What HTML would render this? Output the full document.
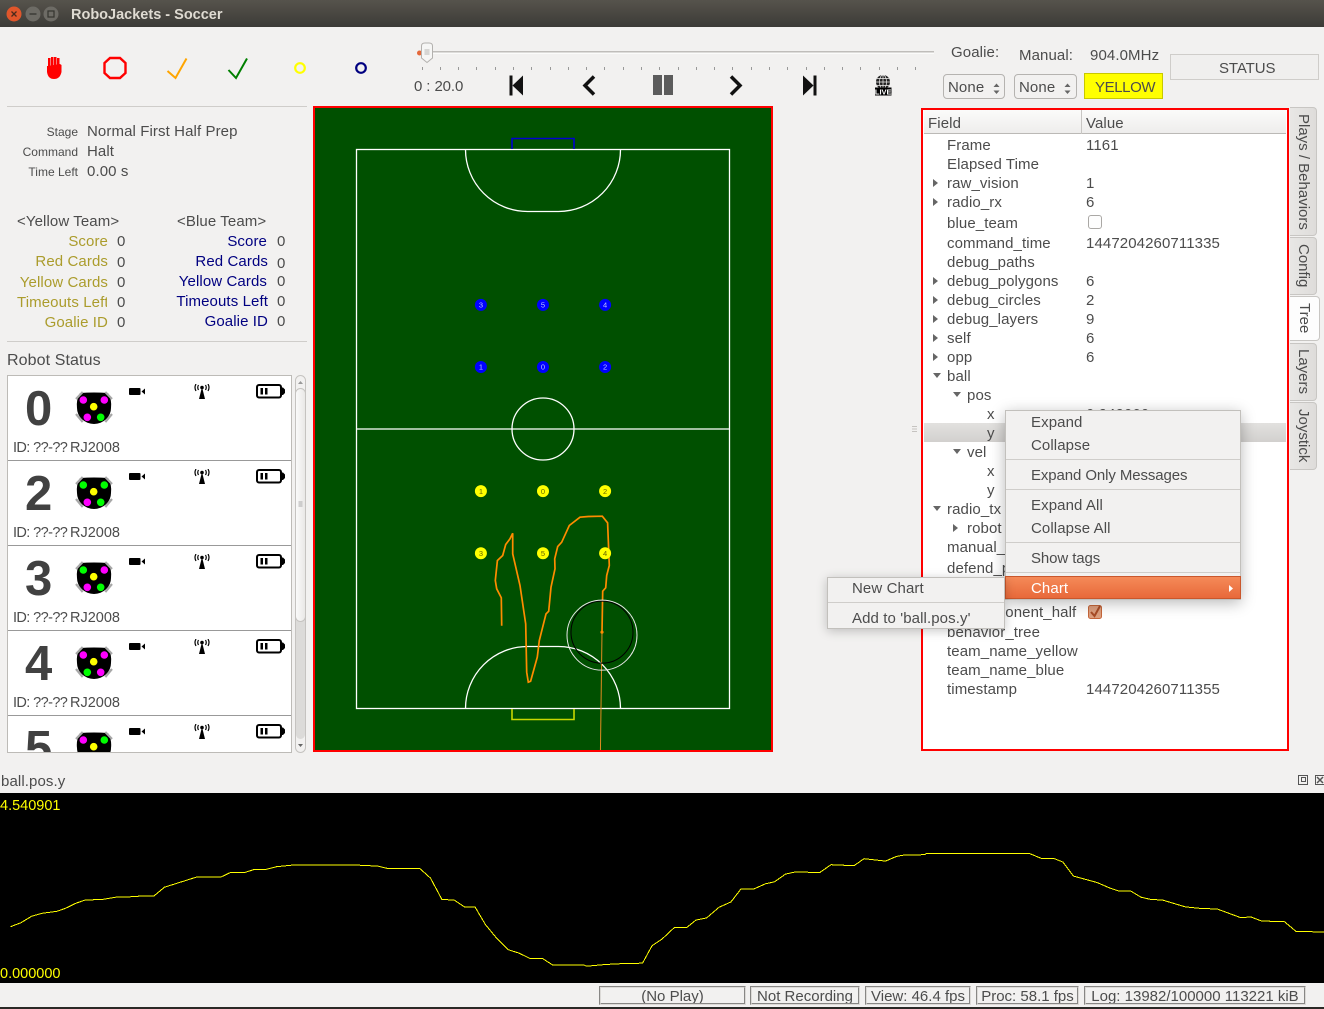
<!DOCTYPE html>
<html lang="en">
<head>
<meta charset="utf-8">
<title>RoboJackets - Soccer</title>
<style>
html,body{margin:0;padding:0}
body{width:1324px;height:1009px;position:relative;overflow:hidden;background:#f2f1f0;font-family:"Liberation Sans",sans-serif;color:#4c4c4c}
.t{position:absolute;white-space:nowrap;line-height:18px;height:18px;margin-top:2px;font-size:15px;letter-spacing:.1px;color:#4c4c4c}
.r{text-align:right}
.s{font-size:12px;letter-spacing:0}
.g{color:#ab9c2c}
.n{color:#000080}
.box{position:absolute;box-sizing:border-box}
.sep{position:absolute;height:1px;background:#cfcdca}
.tr{position:absolute;width:0;height:0;margin-top:1px;border-top:4px solid transparent;border-bottom:4px solid transparent;border-left:5px solid #666}
.td{position:absolute;width:0;height:0;border-left:4px solid transparent;border-right:4px solid transparent;border-top:5px solid #666}
.tab{position:absolute;box-sizing:border-box;left:1290px;width:27px;background:linear-gradient(90deg,#e8e7e5,#dedcda);border:1px solid #c8c6c3;border-left:none;border-radius:0 4px 4px 0}
.tab span{position:absolute;left:3px;top:0;bottom:0;width:20px;text-align:center;writing-mode:vertical-rl;font-size:15px;line-height:20px;color:#4c4c4c;white-space:nowrap}
.spin{position:absolute;box-sizing:border-box;top:74px;height:25px;border:1px solid #b5b3b0;border-radius:4px;background:#f2f1f0}
.card{position:absolute;left:0;width:283px;height:85px;border-bottom:1px solid #999;box-sizing:border-box;overflow:hidden}
.id{letter-spacing:0;font-size:14.5px}
.id span{display:inline-block;width:57px;letter-spacing:-.6px}
.status{position:absolute;box-sizing:border-box;top:986px;height:19px;border:2px groove #dcdad7;font-size:15px;line-height:18px;text-align:center;color:#4c4c4c;white-space:nowrap;overflow:hidden}
</style>
</head>
<body>

<svg width="0" height="0" style="position:absolute">
  <defs>
    <symbol id="camera" viewBox="0 0 16 8"><rect x="0" y="0" width="11.5" height="7" rx="1" fill="#000"/><path d="M12.5 3.5L16 0.5V6.500z" fill="#000"/></symbol>
    <symbol id="antenna" viewBox="0 0 16 15">
      <path d="M8 3L11 15H5z" fill="#000"/><circle cx="8" cy="3.500" r="1.800" fill="#000"/>
      <path d="M4.500 1Q3 3.500 4.500 6M11.500 1Q13 3.500 11.500 6M2 0Q0 3.500 2 7M14 0Q16 3.500 14 7" fill="none" stroke="#000" stroke-width="1.200"/>
    </symbol>
    <symbol id="battery" viewBox="0 0 29 15">
      <rect x="1" y="1" width="24" height="12.500" rx="2" fill="#fff" stroke="#000" stroke-width="2"/>
      <path d="M25 3.500h2l2 2v3.500l-2 2h-2z" fill="#000"/>
      <rect x="4.500" y="4" width="2.500" height="6.500" fill="#000"/><rect x="9" y="4" width="2.500" height="6.500" fill="#000"/>
    </symbol>
    <symbol id="robot-body" viewBox="0 0 40 36">
      <path d="M6 3Q20 2 34 3Q38 10 37 18A17 16 0 0 1 3 18Q2 10 6 3z" fill="#000"/>
      <path d="M8.700 2L2 9M31.300 2L38 9M2 24L8.700 32M38 24L31.300 32" stroke="#a8a8a8" stroke-width="2.200" fill="none"/>
    </symbol>
  </defs>
</svg>

<!-- Title bar -->
<div class="box" style="left:0;top:0;width:1324px;height:27px;background:linear-gradient(#56534c,#3c3b37)"></div>
<svg class="box" style="left:0;top:0" width="70" height="27">
  <circle cx="14" cy="14" r="7.500" fill="#e0562b"/>
  <path d="M11.500 11.500L16.500 16.500M16.500 11.500L11.500 16.500" stroke="#4a2a1c" stroke-width="1.300"/>
  <circle cx="33" cy="14" r="7.500" fill="#6d6b65"/>
  <path d="M29.500 14H36.500" stroke="#35342f" stroke-width="1.300"/>
  <circle cx="51" cy="14" r="7.500" fill="#6d6b65"/>
  <rect x="48" y="11" width="6" height="6" fill="none" stroke="#35342f" stroke-width="1.200"/>
</svg>
<div class="t" style="left:71px;top:4px;font-weight:bold;font-size:14.5px;letter-spacing:0;color:#dfdbd2">RoboJackets - Soccer</div>

<!-- Toolbar -->
<svg class="box" style="left:0;top:27px" width="400" height="78">
  <g transform="translate(0,-27)">
    <g fill="#f00">
      <rect x="48" y="58" width="2.500" height="12"/><rect x="51" y="57" width="2.500" height="12"/><rect x="54" y="57" width="2.500" height="12"/><rect x="57" y="58" width="2.500" height="12"/>
      <path d="M60 64L61.500 65V72Q60 79 54 79Q48 79 47 72V66L48 66z"/>
    </g>
    <polygon points="110,58 120,58 125.500,63 125.500,73 120,78 110,78 104.500,73 104.500,63" fill="none" stroke="#f00" stroke-width="2.400"/>
    <polyline points="167.500,71 175.500,78 186.500,58.500" fill="none" stroke="#ffa500" stroke-width="2"/>
    <polyline points="228.500,70 236,78 247,58.500" fill="none" stroke="#008000" stroke-width="2"/>
    <circle cx="300" cy="68" r="4.800" fill="none" stroke="#ff0" stroke-width="2.200"/>
    <circle cx="361" cy="68" r="4.800" fill="none" stroke="#000080" stroke-width="2.200"/>
  </g>
</svg>

<!-- Slider -->
<svg class="box" style="left:410px;top:38px" width="530" height="30" id="slider-svg">
  <rect x="10" y="13" width="514" height="1.500" fill="#bfbdba"/>
  <rect x="10" y="14.500" width="514" height="1.500" fill="#fbfbfa"/>
  <circle cx="9.500" cy="15" r="2.500" fill="#e5683a"/>
  <path d="M11.500 8Q11.500 5 15 5H19Q22.500 5 22.500 8V20L17 24.500L11.500 20z" fill="#f6f6f5" stroke="#b3b1ae"/>
  <path d="M14.500 12H19.500M14.500 14H19.500M14.500 16H19.500" stroke="#b8b6b3"/>
</svg>
<svg class="box" style="left:410px;top:67px" width="530" height="4" id="slider-ticks"></svg>
<div class="t" style="left:414px;top:76px;letter-spacing:-.1px">0 : 20.0</div>

<svg class="box" style="left:500px;top:70px" width="400" height="28">
  <g transform="translate(-500,-70)">
    <g><rect x="509.500" y="75.500" width="3" height="20" fill="#111"/><path d="M523 75.500V95.500L512.500 85.500z" fill="#111"/></g>
    <polyline points="594,76.500 585,85.500 594,94.500" fill="none" stroke="#111" stroke-width="3.500"/>
    <g fill="#5c5c5c"><rect x="653" y="75" width="9" height="20"/><rect x="664" y="75" width="9" height="20"/></g>
    <polyline points="731,76.500 740,85.500 731,94.500" fill="none" stroke="#111" stroke-width="3.500"/>
    <g><path d="M803 75.500V95.500L813.500 85.500z" fill="#111"/><rect x="813.500" y="75.500" width="3" height="20" fill="#111"/></g>
    <g>
      <circle cx="883" cy="82" r="7" fill="#222"/>
      <path d="M876 82H890M877 78.500H889M877 85.500H889M883 75V89" stroke="#f2f1f0" stroke-width=".7"/>
      <ellipse cx="883" cy="82" rx="3.500" ry="7" fill="none" stroke="#f2f1f0" stroke-width=".7"/>
      <rect x="875" y="87.500" width="16.500" height="8" fill="#000"/>
      <text x="883.200" y="94.500" font-size="7.500" font-weight="bold" fill="#fff" text-anchor="middle" font-family="Liberation Sans, sans-serif">LIVE</text>
    </g>
  </g>
</svg>

<!-- Top right controls -->
<div class="t" style="left:951px;top:42px">Goalie:</div>
<div class="t" style="left:1019px;top:45px">Manual:</div>
<div class="t" style="left:1090px;top:45px">904.0MHz</div>
<div class="box" style="left:1170px;top:54px;width:149px;height:26px;border:1px solid #cfcdca;background:#f0efee"></div>
<div class="t" style="left:1219px;top:58px;letter-spacing:-.1px">STATUS</div>

<div class="spin" style="left:943px;width:62px"></div>
<div class="t" style="left:948px;top:77px">None</div>
<div class="spin" style="left:1014px;width:63px"></div>
<div class="t" style="left:1019px;top:77px">None</div>
<svg class="box" style="left:990px;top:81px" width="85" height="15">
  <path d="M3.500 6L6.500 2.500L9.500 6zM3.500 9.500L6.500 13L9.500 9.500zM74.500 6L77.500 2.500L80.500 6zM74.500 9.500L77.500 13L80.500 9.500z" fill="#666"/>
</svg>
<div class="box" style="left:1084px;top:73px;width:79px;height:26px;background:#ff0;border:1px solid #c8c800"></div>
<div class="t" style="left:1095px;top:77px;letter-spacing:-.4px">YELLOW</div>

<!-- Left panel -->
<div class="sep" style="left:7px;top:106px;width:300px"></div>
<div class="t r s" style="left:0;width:78px;top:121px">Stage</div>
<div class="t" style="left:87px;top:121px">Normal First Half Prep</div>
<div class="t r s" style="left:0;width:78px;top:141px">Command</div>
<div class="t" style="left:87px;top:141px">Halt</div>
<div class="t r s" style="left:0;width:78px;top:161px">Time Left</div>
<div class="t" style="left:87px;top:161px">0.00 s</div>

<div class="t" style="left:17px;top:211px">&lt;Yellow Team&gt;</div>
<div class="t r g" style="left:0;width:108px;top:231px">Score</div>
<div class="t" style="left:117px;top:231px">0</div>
<div class="t r g" style="left:0;width:108px;top:251px">Red Cards</div>
<div class="t" style="left:117px;top:252px">0</div>
<div class="t r g" style="left:0;width:108px;top:272px">Yellow Cards</div>
<div class="t" style="left:117px;top:272px">0</div>
<div class="t g" style="left:17px;width:90px;overflow:hidden;top:292px">Timeouts Left</div>
<div class="t" style="left:117px;top:292px">0</div>
<div class="t r g" style="left:0;width:108px;top:312px">Goalie ID</div>
<div class="t" style="left:117px;top:312px">0</div>

<div class="t" style="left:177px;top:211px">&lt;Blue Team&gt;</div>
<div class="t r n" style="left:120px;width:147px;top:231px">Score</div>
<div class="t" style="left:277px;top:231px">0</div>
<div class="t r n" style="left:120px;width:148px;top:251px">Red Cards</div>
<div class="t" style="left:277px;top:253px">0</div>
<div class="t r n" style="left:120px;width:147px;top:271px">Yellow Cards</div>
<div class="t" style="left:277px;top:271px">0</div>
<div class="t r n" style="left:120px;width:148px;top:291px">Timeouts Left</div>
<div class="t" style="left:277px;top:291px">0</div>
<div class="t r n" style="left:120px;width:148px;top:311px">Goalie ID</div>
<div class="t" style="left:277px;top:311px">0</div>

<div class="sep" style="left:7px;top:341px;width:300px"></div>
<div class="t" style="left:7px;top:350px;font-size:16px">Robot Status</div>

<!-- Robot list -->
<div class="box" style="left:7px;top:375px;width:285px;height:378px;background:#fff;border:1px solid #bdbbb7;overflow:hidden">
  <div class="card" style="top:0">
    <div class="t" style="left:17px;top:6px;height:50px;line-height:50px;font-size:49px;font-weight:bold;letter-spacing:0;color:#414141">0</div>
    <svg class="box" style="left:66px;top:14px" width="40" height="36"><use href="#robot-body"/><circle cx="9.300" cy="10" r="3.800" fill="#f0f"/><circle cx="30.300" cy="10" r="3.800" fill="#f0f"/><circle cx="19.700" cy="16.700" r="3.800" fill="#ff0"/><circle cx="13.300" cy="27.300" r="3.800" fill="#f0f"/><circle cx="26.700" cy="27.300" r="3.800" fill="#0f0"/></svg>
    <svg class="box" style="left:121px;top:12px" width="16" height="8"><use href="#camera"/></svg>
    <svg class="box" style="left:186px;top:8px" width="16" height="15"><use href="#antenna"/></svg>
    <svg class="box" style="left:248px;top:8px" width="29" height="15"><use href="#battery"/></svg>
    <div class="t id" style="left:5px;top:61px"><span>ID: ??-??</span>RJ2008</div>
  </div>
  <div class="card" style="top:85px">
    <div class="t" style="left:17px;top:6px;height:50px;line-height:50px;font-size:49px;font-weight:bold;letter-spacing:0;color:#414141">2</div>
    <svg class="box" style="left:66px;top:14px" width="40" height="36"><use href="#robot-body"/><circle cx="9.300" cy="10" r="3.800" fill="#0f0"/><circle cx="30.300" cy="10" r="3.800" fill="#0f0"/><circle cx="19.700" cy="16.700" r="3.800" fill="#ff0"/><circle cx="13.300" cy="27.300" r="3.800" fill="#f0f"/><circle cx="26.700" cy="27.300" r="3.800" fill="#0f0"/></svg>
    <svg class="box" style="left:121px;top:12px" width="16" height="8"><use href="#camera"/></svg>
    <svg class="box" style="left:186px;top:8px" width="16" height="15"><use href="#antenna"/></svg>
    <svg class="box" style="left:248px;top:8px" width="29" height="15"><use href="#battery"/></svg>
    <div class="t id" style="left:5px;top:61px"><span>ID: ??-??</span>RJ2008</div>
  </div>
  <div class="card" style="top:170px">
    <div class="t" style="left:17px;top:6px;height:50px;line-height:50px;font-size:49px;font-weight:bold;letter-spacing:0;color:#414141">3</div>
    <svg class="box" style="left:66px;top:14px" width="40" height="36"><use href="#robot-body"/><circle cx="9.300" cy="10" r="3.800" fill="#0f0"/><circle cx="30.300" cy="10" r="3.800" fill="#f0f"/><circle cx="19.700" cy="16.700" r="3.800" fill="#ff0"/><circle cx="13.300" cy="27.300" r="3.800" fill="#f0f"/><circle cx="26.700" cy="27.300" r="3.800" fill="#0f0"/></svg>
    <svg class="box" style="left:121px;top:12px" width="16" height="8"><use href="#camera"/></svg>
    <svg class="box" style="left:186px;top:8px" width="16" height="15"><use href="#antenna"/></svg>
    <svg class="box" style="left:248px;top:8px" width="29" height="15"><use href="#battery"/></svg>
    <div class="t id" style="left:5px;top:61px"><span>ID: ??-??</span>RJ2008</div>
  </div>
  <div class="card" style="top:255px">
    <div class="t" style="left:17px;top:6px;height:50px;line-height:50px;font-size:49px;font-weight:bold;letter-spacing:0;color:#414141">4</div>
    <svg class="box" style="left:66px;top:14px" width="40" height="36"><use href="#robot-body"/><circle cx="9.300" cy="10" r="3.800" fill="#f0f"/><circle cx="30.300" cy="10" r="3.800" fill="#f0f"/><circle cx="19.700" cy="16.700" r="3.800" fill="#ff0"/><circle cx="13.300" cy="27.300" r="3.800" fill="#0f0"/><circle cx="26.700" cy="27.300" r="3.800" fill="#f0f"/></svg>
    <svg class="box" style="left:121px;top:12px" width="16" height="8"><use href="#camera"/></svg>
    <svg class="box" style="left:186px;top:8px" width="16" height="15"><use href="#antenna"/></svg>
    <svg class="box" style="left:248px;top:8px" width="29" height="15"><use href="#battery"/></svg>
    <div class="t id" style="left:5px;top:61px"><span>ID: ??-??</span>RJ2008</div>
  </div>
  <div class="card" style="top:340px;border-bottom:none">
    <div class="t" style="left:17px;top:6px;height:50px;line-height:50px;font-size:49px;font-weight:bold;letter-spacing:0;color:#414141">5</div>
    <svg class="box" style="left:66px;top:14px" width="40" height="36"><use href="#robot-body"/><circle cx="9.300" cy="10" r="3.800" fill="#f0f"/><circle cx="30.300" cy="10" r="3.800" fill="#0f0"/><circle cx="19.700" cy="16.700" r="3.800" fill="#ff0"/></svg>
    <svg class="box" style="left:121px;top:12px" width="16" height="8"><use href="#camera"/></svg>
    <svg class="box" style="left:186px;top:8px" width="16" height="15"><use href="#antenna"/></svg>
    <svg class="box" style="left:248px;top:8px" width="29" height="15"><use href="#battery"/></svg>
  </div>
</div>
<!-- Scrollbar -->
<div class="box" style="left:295px;top:375px;width:11px;height:378px;border:1px solid #c5c3c0;border-radius:6px;background:#f2f1f0"></div>
<div class="box" style="left:296px;top:388px;width:9px;height:351px;background:#dcdbd9;border-radius:5px"></div>
<div class="box" style="left:295px;top:388px;width:11px;height:234px;background:linear-gradient(90deg,#fafafa,#e9e8e6);border:1px solid #c5c3c0;border-radius:6px"></div>
<svg class="box" style="left:295px;top:377px" width="11" height="375"><path d="M3 7L5.500 4L8 7z" fill="#999"/><path d="M3 367L5.500 370L8 367z" fill="#666"/><path d="M3.500 125H7.500M3.500 127H7.500M3.500 129H7.500" stroke="#aaa"/></svg>

<!-- Soccer field -->
<svg class="box" id="field" style="left:313px;top:106px" width="461" height="646" viewBox="313 106 461 646">
  <rect x="314" y="107" width="458" height="644" fill="#005000" stroke="#f00" stroke-width="2"/>
  <clipPath id="fieldclip"><rect x="315" y="108" width="456" height="642"/></clipPath>
  <g fill="none" stroke="#fff" stroke-width="1.300">
    <rect x="356.500" y="149.500" width="373" height="559"/>
    <path d="M356.500 429H729.500"/>
    <circle cx="543" cy="429" r="31"/>
    <path d="M465.500 149.500A62 62 0 0 0 527.500 211.500H558.500A62 62 0 0 0 620.500 149.500"/>
    <path d="M465.500 708.500A62 62 0 0 1 527.500 646.500H558.500A62 62 0 0 1 620.500 708.500"/>
  </g>
  <path d="M512 149V138.500H574V149" fill="none" stroke="#0000d0" stroke-width="1.600"/>
  <path d="M512 709V719.500H574V709" fill="none" stroke="#c8d800" stroke-width="1.600"/>
  <g id="ball-layer" clip-path="url(#fieldclip)"></g>
  <g id="robot-layer"></g>
</svg>

<!-- Tree panel -->
<div class="box" style="left:921px;top:108px;width:368px;height:643px;background:#fff;border:2.500px solid #f00"></div>
<div class="box" style="left:924px;top:110px;width:362px;height:24px;background:linear-gradient(#fbfbfa,#eeedec);border-bottom:1px solid #bbb9b6"></div>
<div class="box" style="left:1081px;top:110px;width:1px;height:24px;background:#c8c6c3"></div>
<div class="t" style="left:928px;top:113px">Field</div>
<div class="t" style="left:1086px;top:113px">Value</div>
<div class="box" style="left:924px;top:423px;width:362px;height:19px;background:linear-gradient(#e2e1df,#d2d0ce)"></div>

<div class="t" style="left:947px;top:135px">Frame</div><div class="t" style="left:1086px;top:135px">1161</div>
<div class="t" style="left:947px;top:154px">Elapsed Time</div>
<div class="tr" style="left:933px;top:178px"></div><div class="t" style="left:947px;top:173px">raw_vision</div><div class="t" style="left:1086px;top:173px">1</div>
<div class="tr" style="left:933px;top:197px"></div><div class="t" style="left:947px;top:192px">radio_rx</div><div class="t" style="left:1086px;top:192px">6</div>
<div class="t" style="left:947px;top:213px">blue_team</div>
<div class="box" style="left:1088px;top:215px;width:14px;height:14px;border:1px solid #aaa8a5;border-radius:3px;background:#fdfdfd"></div>
<div class="t" style="left:947px;top:233px">command_time</div><div class="t" style="left:1086px;top:233px">1447204260711335</div>
<div class="t" style="left:947px;top:252px">debug_paths</div>
<div class="tr" style="left:933px;top:276px"></div><div class="t" style="left:947px;top:271px">debug_polygons</div><div class="t" style="left:1086px;top:271px">6</div>
<div class="tr" style="left:933px;top:295px"></div><div class="t" style="left:947px;top:290px">debug_circles</div><div class="t" style="left:1086px;top:290px">2</div>
<div class="tr" style="left:933px;top:314px"></div><div class="t" style="left:947px;top:309px">debug_layers</div><div class="t" style="left:1086px;top:309px">9</div>
<div class="tr" style="left:933px;top:333px"></div><div class="t" style="left:947px;top:328px">self</div><div class="t" style="left:1086px;top:328px">6</div>
<div class="tr" style="left:933px;top:352px"></div><div class="t" style="left:947px;top:347px">opp</div><div class="t" style="left:1086px;top:347px">6</div>
<div class="td" style="left:933px;top:373px"></div><div class="t" style="left:947px;top:366px">ball</div>
<div class="td" style="left:953px;top:392px"></div><div class="t" style="left:967px;top:385px">pos</div>
<div class="t" style="left:987px;top:404px">x</div><div class="t" style="left:1086px;top:404px">0.949000</div>
<div class="t" style="left:987px;top:423px">y</div>
<div class="td" style="left:953px;top:449px"></div><div class="t" style="left:967px;top:442px">vel</div>
<div class="t" style="left:987px;top:461px">x</div>
<div class="t" style="left:987px;top:480px">y</div>
<div class="td" style="left:933px;top:506px"></div><div class="t" style="left:947px;top:499px">radio_tx</div>
<div class="tr" style="left:953px;top:523px"></div><div class="t" style="left:967px;top:518px">robot</div>
<div class="t" style="left:947px;top:537px">manual_id</div>
<div class="t" style="left:947px;top:558px">defend_plus_x</div>
<div class="t" style="left:947px;top:602px">use_opponent_half</div>
<svg class="box" style="left:1087px;top:603px" width="17" height="16"><rect x="1.500" y="2.500" width="13" height="13" rx="2" fill="#dd9f7e" stroke="#c5663a"/><path d="M4 9L7.500 13L13 3" fill="none" stroke="#a84c26" stroke-width="2"/></svg>
<div class="t" style="left:947px;top:622px">behavior_tree</div>
<div class="t" style="left:947px;top:641px">team_name_yellow</div>
<div class="t" style="left:947px;top:660px">team_name_blue</div>
<div class="t" style="left:947px;top:679px">timestamp</div><div class="t" style="left:1086px;top:679px">1447204260711355</div>

<svg class="box" style="left:912px;top:425px" width="6" height="9"><path d="M0 1.500H5M0 4H5M0 6.500H5" stroke="#c5c3c0"/></svg>

<!-- Side tabs -->
<div class="tab" style="top:107px;height:129px"><span>Plays / Behaviors</span></div>
<div class="tab" style="top:237px;height:58px"><span>Config</span></div>
<div class="tab" style="top:296px;height:45px;width:30px;background:#fdfdfd"><span style="left:4px">Tree</span></div>
<div class="tab" style="top:343px;height:58px"><span>Layers</span></div>
<div class="tab" style="top:402px;height:68px"><span>Joystick</span></div>

<!-- Context menus -->
<div class="box" style="left:1005px;top:410px;width:236px;height:190px;background:#f2f1f0;border:1px solid #c2c0bc;box-shadow:0 3px 14px rgba(0,0,0,.28)"></div>
<div class="t" style="left:1031px;top:412px">Expand</div>
<div class="t" style="left:1031px;top:435px">Collapse</div>
<div class="sep" style="left:1006px;top:459px;width:234px"></div>
<div class="t" style="left:1031px;top:465px;letter-spacing:-.1px">Expand Only Messages</div>
<div class="sep" style="left:1006px;top:489px;width:234px"></div>
<div class="t" style="left:1031px;top:495px">Expand All</div>
<div class="t" style="left:1031px;top:518px">Collapse All</div>
<div class="sep" style="left:1006px;top:542px;width:234px"></div>
<div class="t" style="left:1031px;top:548px;letter-spacing:-.1px">Show tags</div>
<div class="sep" style="left:1006px;top:572px;width:234px"></div>
<div class="box" style="left:1005px;top:576px;width:236px;height:23px;background:linear-gradient(#f58a58,#e8693a);border:1px solid #c9572c"></div>
<div class="t" style="left:1031px;top:578px;color:#fff">Chart</div>
<svg class="box" style="left:1228px;top:584px" width="8" height="9"><path d="M1 1L5 4.500L1 8z" fill="#fff"/></svg>

<div class="box" style="left:827px;top:577px;width:178px;height:52px;background:#f2f1f0;border:1px solid #c2c0bc;box-shadow:0 2px 10px rgba(0,0,0,.22)"></div>
<div class="t" style="left:852px;top:578px">New Chart</div>
<div class="sep" style="left:828px;top:602px;width:176px"></div>
<div class="t" style="left:852px;top:608px">Add to 'ball.pos.y'</div>

<!-- Chart dock -->
<div class="t" style="left:1px;top:771px">ball.pos.y</div>
<svg class="box" style="left:1296px;top:774px" width="28" height="13">
  <g fill="none" stroke="#555"><rect x="2.500" y="1.500" width="9" height="9"/><rect x="5.500" y="3.500" width="4" height="4"/></g>
  <g fill="none" stroke="#555"><rect x="19.500" y="1.500" width="9" height="9"/><path d="M21 3L27 9M27 3L21 9" stroke-width="1.500"/></g>
</svg>
<svg class="box" id="chart" style="left:0;top:793px" width="1324" height="190"></svg>

<!-- Status bar -->
<div class="status" style="left:599px;width:147px">(No Play)</div>
<div class="status" style="left:750px;width:110px">Not Recording</div>
<div class="status" style="left:865px;width:106px">View: 46.4 fps</div>
<div class="status" style="left:976px;width:103px">Proc: 58.1 fps</div>
<div class="status" style="left:1084px;width:222px">Log: 13982/100000 113221 kiB</div>
<div class="box" style="left:0;top:1007px;width:1324px;height:2px;background:#2a2926"></div>

<script>
// Chart data: ball.pos.y over recorded frames
const frames = [21,42,63,84,114,131,152,171,203,232,257,287,308,329,355,393,443,460,490,507,532,553,587,709,756,777,840,861,884,908,929,950,971,992,1017,1038,1060,1085,1106,1169,1173,1211,1249,1285,1304,1324,1349,1373,1392,1413,1438,1462,1482,1508,1531,1549,1571,1592,1639,1662,1708,1728,1771,1793,1809,1849,1852,2060,2084,2109,2126,2147,2194,2219,2237,2261,2282,2303,2324,2371,2405,2434,2481,2502,2523,2569,2592,2648];
const ballPosY = [1.346,1.442,1.594,1.666,1.714,1.786,1.906,1.986,1.994,2.050,2.058,2.082,2.082,2.290,2.387,2.531,2.539,2.635,2.643,2.707,2.715,2.779,2.819,2.819,2.795,2.731,2.731,2.507,1.994,1.986,1.818,1.818,1.394,1.090,0.794,0.714,0.586,0.586,0.426,0.426,0.402,0.442,0.466,0.474,0.890,1.050,1.330,1.322,1.506,1.554,1.810,1.938,2.250,2.250,2.370,2.418,2.602,2.658,2.635,2.827,2.803,2.970,2.914,3.026,3.058,3.066,3.090,3.090,2.970,2.970,2.890,2.554,2.402,2.274,2.202,2.202,2.050,1.994,1.986,1.818,1.778,1.770,1.562,1.578,1.482,1.466,1.234,1.218];
const chartTickLabels = ["4.540901","0.000000"];
const chartTickValues = [4.540901,0];
const chartFrameDomain = [0,2648];

// Field data (metres; x from centre line, y from the yellow goal line)
const ballTrailX = [-0.665,-0.671,-0.746,-0.768,-0.735,-0.649,-0.601,-0.531,-0.488,-0.488,-0.370,-0.279,-0.263,-0.236,-0.199,-0.091,-0.059,0.048,0.091,0.129,0.193,0.188,0.236,0.301,0.424,0.596,0.730,0.955,1.041,1.068,1.025,1.010,0.961,0.950];
const ballTrailY = [1.332,1.782,1.927,2.061,2.383,2.464,2.641,2.732,2.823,2.491,1.981,1.363,0.585,0.424,0.440,0.827,1.095,1.524,1.567,1.954,2.249,2.410,2.609,2.678,2.947,3.081,3.092,3.097,2.990,2.303,2.142,1.944,1.889,1.229];
const ballVelocityEnd = [0.925,-0.675];
const blueRobotIds = [3,5,4,1,0,2];
const blueRobotX = [-1,0,1,-1,0,1];
const blueRobotY = [6.5,6.5,6.5,5.5,5.5,5.5];
const yellowRobotIds = [1,0,2,3,5,4];
const yellowRobotX = [-1,0,1,-1,0,1];
const yellowRobotY = [3.5,3.5,3.5,2.5,2.5,2.5];

const svgNS = 'http://www.w3.org/2000/svg';
function fx(m){return 543+m*62.1;}
function fy(m){return 708.5-m*62.1;}
function chartX(f){return (f-chartFrameDomain[0])/(chartFrameDomain[1]-chartFrameDomain[0])*1324;}
function chartY(v){return 190-v/chartTickValues[0]*190;}

// Slider ticks
const tickCount = 28;
const ticksSvg = document.getElementById('slider-ticks');
for(let i=0;i<tickCount;i++){
  const tick=document.createElementNS(svgNS,'rect');
  
  
  tick.setAttribute('x',Math.round(11.5+i*18.29));
  tick.setAttribute('y',0);
  tick.setAttribute('width',1);
  tick.setAttribute('height',3);
  tick.setAttribute('fill','#999');
  ticksSvg.appendChild(tick);
}

// Chart
const chartSvg = document.getElementById('chart');
const chartBg=document.createElementNS(svgNS,'rect');


chartBg.setAttribute('width',1324);
chartBg.setAttribute('height',190);
chartBg.setAttribute('fill','#000');
chartSvg.appendChild(chartBg);
const chartLine=document.createElementNS(svgNS,'polyline');


chartLine.setAttribute('points',frames.map(function(f,i){return chartX(f).toFixed(1)+','+chartY(ballPosY[i]).toFixed(1);}).join(' '));
chartLine.setAttribute('fill','none');
chartLine.setAttribute('stroke','#ffff00');
chartLine.setAttribute('stroke-width','1');
chartLine.setAttribute('shape-rendering','crispEdges');
chartSvg.appendChild(chartLine);
chartTickLabels.forEach(function(label,i){
  const tl=document.createElementNS(svgNS,'text');
  
  
  tl.setAttribute('x',0);
  tl.setAttribute('y',i===0?17:185);
  tl.setAttribute('fill','#ffff00');
  tl.setAttribute('font-size','14.5');
  tl.setAttribute('font-family','Liberation Sans, sans-serif');
  tl.textContent=label;
  chartSvg.appendChild(tl);
});

// Ball trail and ball
const ballLayer=document.getElementById('ball-layer');
const trail=document.createElementNS(svgNS,'polyline');


trail.setAttribute('points',ballTrailX.map(function(x,i){return fx(x).toFixed(1)+','+fy(ballTrailY[i]).toFixed(1);}).join(' '));
trail.setAttribute('fill','none');
trail.setAttribute('stroke','#ff8c00');
trail.setAttribute('stroke-width','1.700');
ballLayer.appendChild(trail);
const lastX=fx(ballTrailX[ballTrailX.length-1]);
const lastY=fy(ballTrailY[ballTrailY.length-1]);
const velLine=document.createElementNS(svgNS,'line');


velLine.setAttribute('x1',lastX);
velLine.setAttribute('y1',lastY);
velLine.setAttribute('x2',fx(ballVelocityEnd[0]));
velLine.setAttribute('y2',fy(ballVelocityEnd[1]));
velLine.setAttribute('stroke','#e08a20');
velLine.setAttribute('stroke-width','1');
ballLayer.appendChild(velLine);
const ballDot=document.createElementNS(svgNS,'circle');


ballDot.setAttribute('cx',lastX);
ballDot.setAttribute('cy',lastY);
ballDot.setAttribute('r',1.6);
ballDot.setAttribute('fill','#ff8c00');
ballLayer.appendChild(ballDot);
const blackRing=document.createElementNS(svgNS,'circle');


blackRing.setAttribute('cx',lastX);
blackRing.setAttribute('cy',lastY);
blackRing.setAttribute('r',31);
blackRing.setAttribute('fill','none');
blackRing.setAttribute('stroke','#000');
blackRing.setAttribute('stroke-width','1');
ballLayer.appendChild(blackRing);
const whiteRing=document.createElementNS(svgNS,'circle');


whiteRing.setAttribute('cx',lastX);
whiteRing.setAttribute('cy',lastY+3);
whiteRing.setAttribute('r',35);
whiteRing.setAttribute('fill','none');
whiteRing.setAttribute('stroke','#e8e8e8');
whiteRing.setAttribute('stroke-width','1');
ballLayer.appendChild(whiteRing);

// Robots
const robotLayer=document.getElementById('robot-layer');
function drawRobots(ids,xs,ys,fill,textFill,team){
  ids.forEach(function(id,i){
    const c=document.createElementNS(svgNS,'circle');
    
    
    c.setAttribute('cx',fx(xs[i]));
    c.setAttribute('cy',fy(ys[i]));
    c.setAttribute('r',6);
    c.setAttribute('fill',fill);
    robotLayer.appendChild(c);
    const t=document.createElementNS(svgNS,'text');
    
    
    t.setAttribute('x',fx(xs[i]));
    t.setAttribute('y',fy(ys[i])+2.7);
    t.setAttribute('text-anchor','middle');
    t.setAttribute('font-size','7.500');
    t.setAttribute('font-family','Liberation Sans, sans-serif');
    t.setAttribute('fill',textFill);
    t.textContent=id;
    robotLayer.appendChild(t);
  });
}
drawRobots(blueRobotIds,blueRobotX,blueRobotY,'#0000ff','#c0c0ff','blue');
drawRobots(yellowRobotIds,yellowRobotX,yellowRobotY,'#ffff00','#666600','yellow');
</script>
</body>
</html>
